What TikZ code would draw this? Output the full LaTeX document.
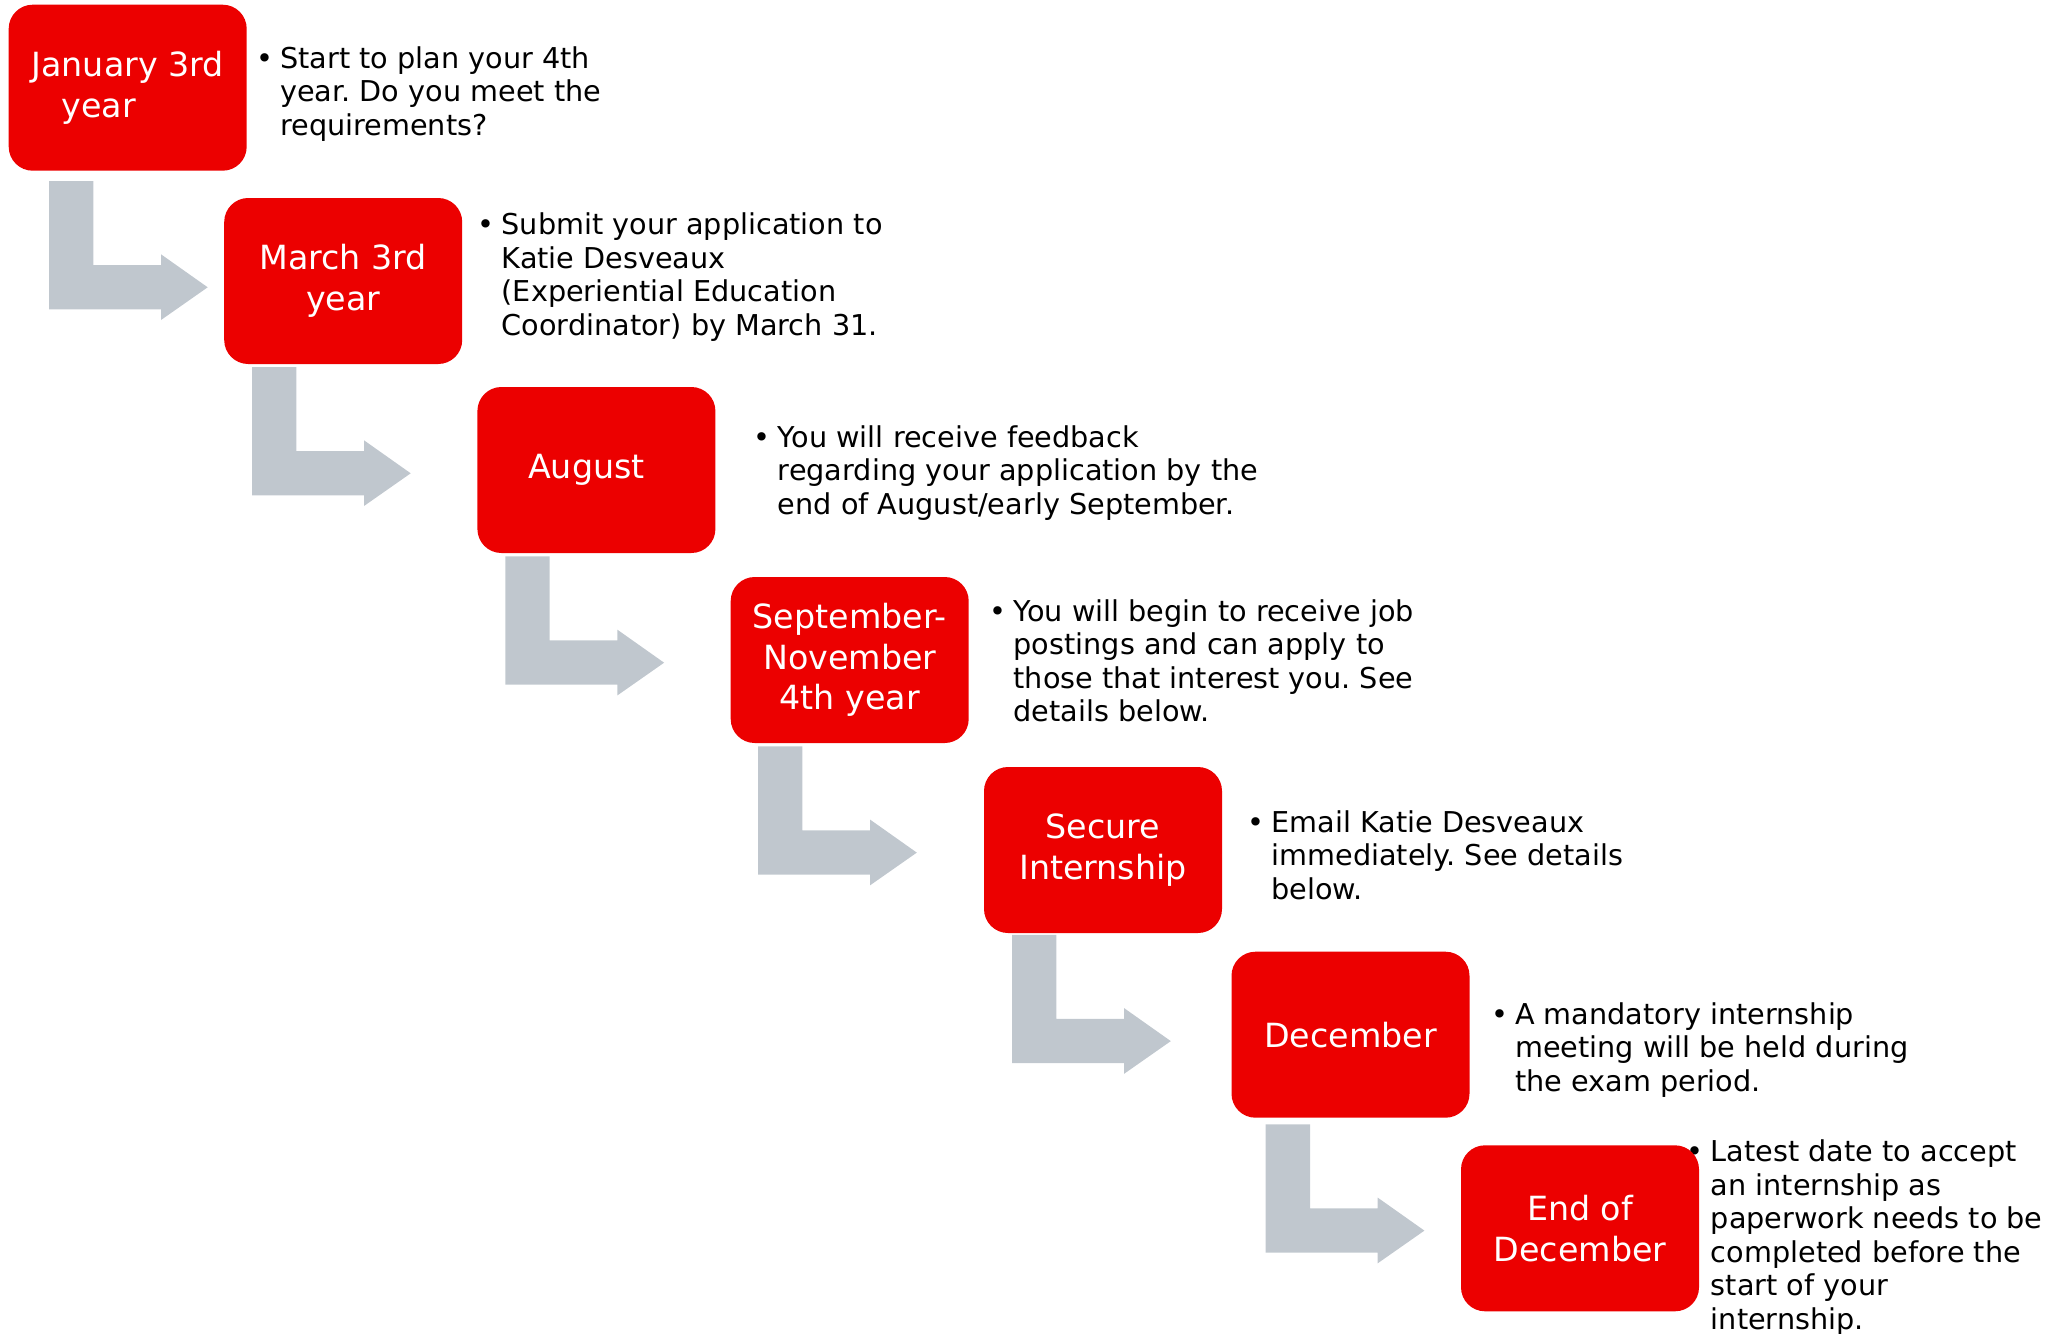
\documentclass[tikz,border=0pt]{standalone}
\usepackage{fontspec}
\setmainfont{DejaVu Sans}
\frenchspacing
\definecolor{boxred}{RGB}{236,0,0}
\definecolor{arrowgray}{RGB}{192,199,206}
\tikzset{
  stepbox/.style={rectangle, rounded corners=24pt, fill=boxred, text=white,
    minimum width=238pt, minimum height=166pt, inner sep=0pt, align=center,
    font=\fontsize{33.3}{40.6}\selectfont},
  desc/.style={anchor=base west, inner sep=0pt, text=black}
}
\newcommand\descbox[1]{\parbox[t]{650pt}{\fontsize{28.7}{33.5}\selectfont\frenchspacing\raggedright\noindent\llap{\textbullet\hspace{7pt}}#1}}
\newcommand\bentarrow[1]{%
  \fill[arrowgray] (#1) -- ++(44.3,0) -- ++(0,84) -- ++(67.7,0) -- ++(0,-10.7)
    -- ++(46.7,33) -- ++(-46.7,32.7) -- ++(0,-10.7) -- ++(-112,0) -- cycle;}
\begin{document}
\begin{tikzpicture}[x=1pt,y=-1pt]
\useasboundingbox (0,0) rectangle (2053,1333);
% arrows
\coordinate (a1) at (49,181);
\coordinate (a2) at (252,367);
\coordinate (a3) at (505.4,556.4);
\coordinate (a4) at (758.1,746.3);
\coordinate (a5) at (1012.1,934.8);
\coordinate (a6) at (1265.7,1124.3);
\bentarrow{a1}\bentarrow{a2}\bentarrow{a3}\bentarrow{a4}\bentarrow{a5}\bentarrow{a6}
% descriptions
\node[desc] (d1) at (280,68) {\descbox{Start to plan your 4th\\year. Do you meet the\\requirements?}};
\node[desc] (d2) at (501.5,234.8) {\descbox{Submit your application to\\Katie Desveaux\\(Experiential Education\\Coordinator) by March 31.}};
\node[desc] (d3) at (777.7,447) {\descbox{You will receive feedback\\regarding your application by the\\end of August/early September.}};
\node[desc] (d4) at (1013.4,621) {\descbox{You will begin to receive job\\postings and can apply to\\those that interest you. See\\details below.}};
\node[desc] (d5) at (1271.3,832) {\descbox{Email Katie Desveaux\\immediately. See details\\below.}};
\node[desc] (d6) at (1515,1024.3) {\descbox{A mandatory internship\\meeting will be held during\\the exam period.}};
\node[desc] (d7) at (1710.7,1161.5) {\descbox{Latest date to accept\\an internship as\\paperwork needs to be\\completed before the\\start of your\\internship.}};
% boxes
\node[stepbox] (b1) at (127.7,87.7) {January 3rd\\\hspace*{-57.6pt}year};
\node[stepbox] (b2) at (343.2,281) {March 3rd\\year};
\node[stepbox] (b3) at (596.4,470) {\hspace*{-20pt}August};
\node[stepbox] (b4) at (849.7,660) {September-\\November\\4th year};
\node[stepbox] (b5) at (1103,850) {Secure\\Internship};
\node[stepbox] (b6) at (1350.5,1034.7) {December};
\node[stepbox] (b7) at (1580,1228.3) {End of\\December};
\end{tikzpicture}
\end{document}
